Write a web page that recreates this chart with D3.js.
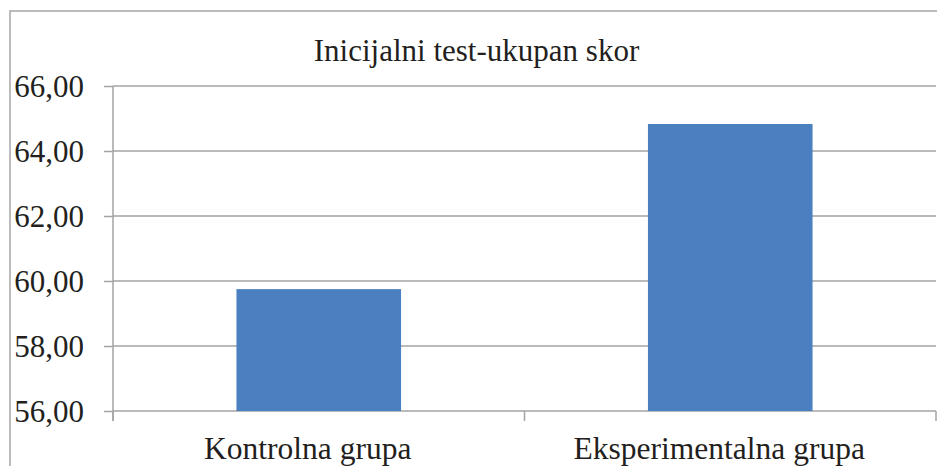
<!DOCTYPE html>
<html><head><meta charset="utf-8">
<script src="https://cdn.jsdelivr.net/npm/d3@7"></script>
<style>body{margin:0;background:#fff}svg{display:block}</style>
</head><body>
<svg id="c" width="937" height="466"></svg>
<script>
const categories = ["Kontrolna grupa", "Eksperimentalna grupa"];
const values = [59.75, 64.83];
const yTicks = [56, 58, 60, 62, 64, 66];
const title = "Inicijalni test-ukupan skor";

const svg = d3.select("#c");
const font = "'Liberation Serif','Times New Roman',serif";
const textCol = "#231f20";
const gridCol = "#a3a3a3";
const L = 113, R = 936, T = 86, B = 411;

svg.append("rect").attr("x", 10).attr("y", 11).attr("width", 1000).attr("height", 1000)
  .attr("fill", "none").attr("stroke", "#a6a6a6").attr("stroke-width", 1.5);

const y = d3.scaleLinear().domain([56, 66]).range([B, T]);
const x = d3.scaleBand().domain(categories).range([L, R]).padding(0);

// gridlines + left ticks
const yAxis = d3.axisLeft(y).tickValues(yTicks).tickSize(9).tickFormat(d => d3.format(".2f")(d).replace(".", ","));
const ya = svg.append("g").attr("transform", `translate(${L},0)`).call(yAxis);
ya.attr("font-family", null).attr("font-size", null);
ya.select(".domain").remove();
ya.selectAll(".tick line").attr("stroke", gridCol).attr("stroke-width", 1.5);
ya.selectAll(".tick text").attr("x", -29).attr("dy", "0.33em").attr("fill", textCol)
  .style("font-family", font).style("font-size", "31px");

svg.append("g").selectAll("line").data(yTicks).join("line")
  .attr("x1", L).attr("x2", R).attr("y1", d => y(d)).attr("y2", d => y(d))
  .attr("stroke", gridCol).attr("stroke-width", 1.5);

// bars
const bw = x.bandwidth() * 0.4;
svg.append("g").selectAll("rect").data(values).join("rect")
  .attr("x", (d, i) => x(categories[i]) + x.bandwidth() / 2 - bw / 2)
  .attr("width", bw)
  .attr("y", d => y(d)).attr("height", d => y(56) - y(d))
  .attr("fill", "#4a80bf");

// y axis line
svg.append("line").attr("x1", L).attr("x2", L).attr("y1", T).attr("y2", B + 10)
  .attr("stroke", gridCol).attr("stroke-width", 1.5);

// x axis category boundary ticks
const bounds = categories.map(c => x(c)).concat([R]);
svg.append("g").selectAll("line").data(bounds).join("line")
  .attr("x1", d => d).attr("x2", d => d).attr("y1", B).attr("y2", B + 10)
  .attr("stroke", gridCol).attr("stroke-width", 1.5);

// category labels
svg.append("g").selectAll("text").data(categories).join("text")
  .attr("x", d => x(d) + x.bandwidth() / 2 - 11).attr("y", 459)
  .attr("text-anchor", "middle").attr("fill", textCol)
  .style("font-family", font).style("font-size", "31.5px").text(d => d);

svg.append("text").attr("x", 476.5).attr("y", 61).attr("text-anchor", "middle")
  .attr("fill", textCol).style("font-family", font).style("font-size", "31px").text(title);
</script>
</body></html>
